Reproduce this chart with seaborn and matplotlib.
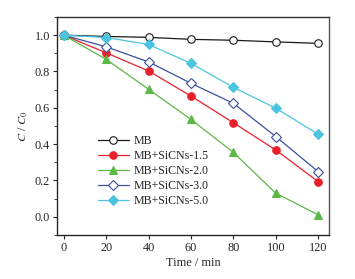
import pandas as pd
import matplotlib
matplotlib.use('Agg')
import matplotlib.pyplot as plt
import seaborn as sns
from matplotlib.ticker import MultipleLocator

# Data
time_min = [0, 20, 40, 60, 80, 100, 120]
mb = [1.0, 0.993, 0.988, 0.977, 0.972, 0.963, 0.955]
sicns_15 = [1.0, 0.903, 0.803, 0.665, 0.518, 0.368, 0.194]
sicns_20 = [1.0, 0.867, 0.702, 0.536, 0.355, 0.130, 0.011]
sicns_30 = [1.0, 0.936, 0.853, 0.735, 0.625, 0.442, 0.249]
sicns_50 = [1.0, 0.987, 0.949, 0.845, 0.713, 0.598, 0.455]
labels = ['MB', 'MB+SiCNs-1.5', 'MB+SiCNs-2.0', 'MB+SiCNs-3.0', 'MB+SiCNs-5.0']

sns.set_style('ticks')
plt.rcParams['font.family'] = ['Liberation Serif', 'DejaVu Serif']
plt.rcParams['mathtext.fontset'] = 'stix'

# style for each series: (color, marker, open marker?)
styles = [
    ('#1a1a1a', 'o', True),
    ('#e8202a', 'o', False),
    ('#5cb847', '^', False),
    ('#3a4fa0', 'D', True),
    ('#4cc4e0', 'D', False),
]
series = [mb, sicns_15, sicns_20, sicns_30, sicns_50]

fig, ax = plt.subplots(figsize=(3.55, 2.79), dpi=100)
fig.subplots_adjust(left=0.16, right=0.927, top=0.939, bottom=0.158)

for vals, label, (color, marker, hollow) in zip(series, labels, styles):
    df = pd.DataFrame({'t': time_min, 'c': vals})
    ms = 4.6 if marker == 'D' else 5.4
    sns.lineplot(data=df, x='t', y='c', ax=ax, color=color, marker=marker,
                 markersize=ms, markerfacecolor='white' if hollow else color,
                 markeredgecolor=color, markeredgewidth=0.8, linewidth=0.9,
                 label=label)

ax.set_xlim(-3.3, 125.2)
ax.set_ylim(-0.1, 1.1)
ax.xaxis.set_major_locator(MultipleLocator(20))
ax.yaxis.set_major_locator(MultipleLocator(0.2))
ax.yaxis.set_minor_locator(MultipleLocator(0.1))
ax.yaxis.set_major_formatter(matplotlib.ticker.FormatStrFormatter('%.1f'))
ax.tick_params(axis='both', which='major', direction='out', length=3, width=0.8,
               labelsize=8.8, pad=2)
ax.tick_params(axis='y', which='minor', direction='out', length=2, width=0.6)
for side in ['top', 'right', 'left', 'bottom']:
    ax.spines[side].set_visible(True)
    ax.spines[side].set_linewidth(1.0)
ax.spines['top'].set_color('#333333')
ax.spines['right'].set_color('#555555')

ax.set_xlabel('Time / min', fontsize=8.8, labelpad=2)
ax.set_ylabel('$C$ / $C_0$', fontsize=8.8, labelpad=3)

ax.legend(loc='lower left', bbox_to_anchor=(0.12, 0.09), frameon=False,
          fontsize=8.6, handlelength=2.6, handletextpad=0.4, labelspacing=0.25,
          borderpad=0.2)

fig.savefig('out.png', dpi=100)
